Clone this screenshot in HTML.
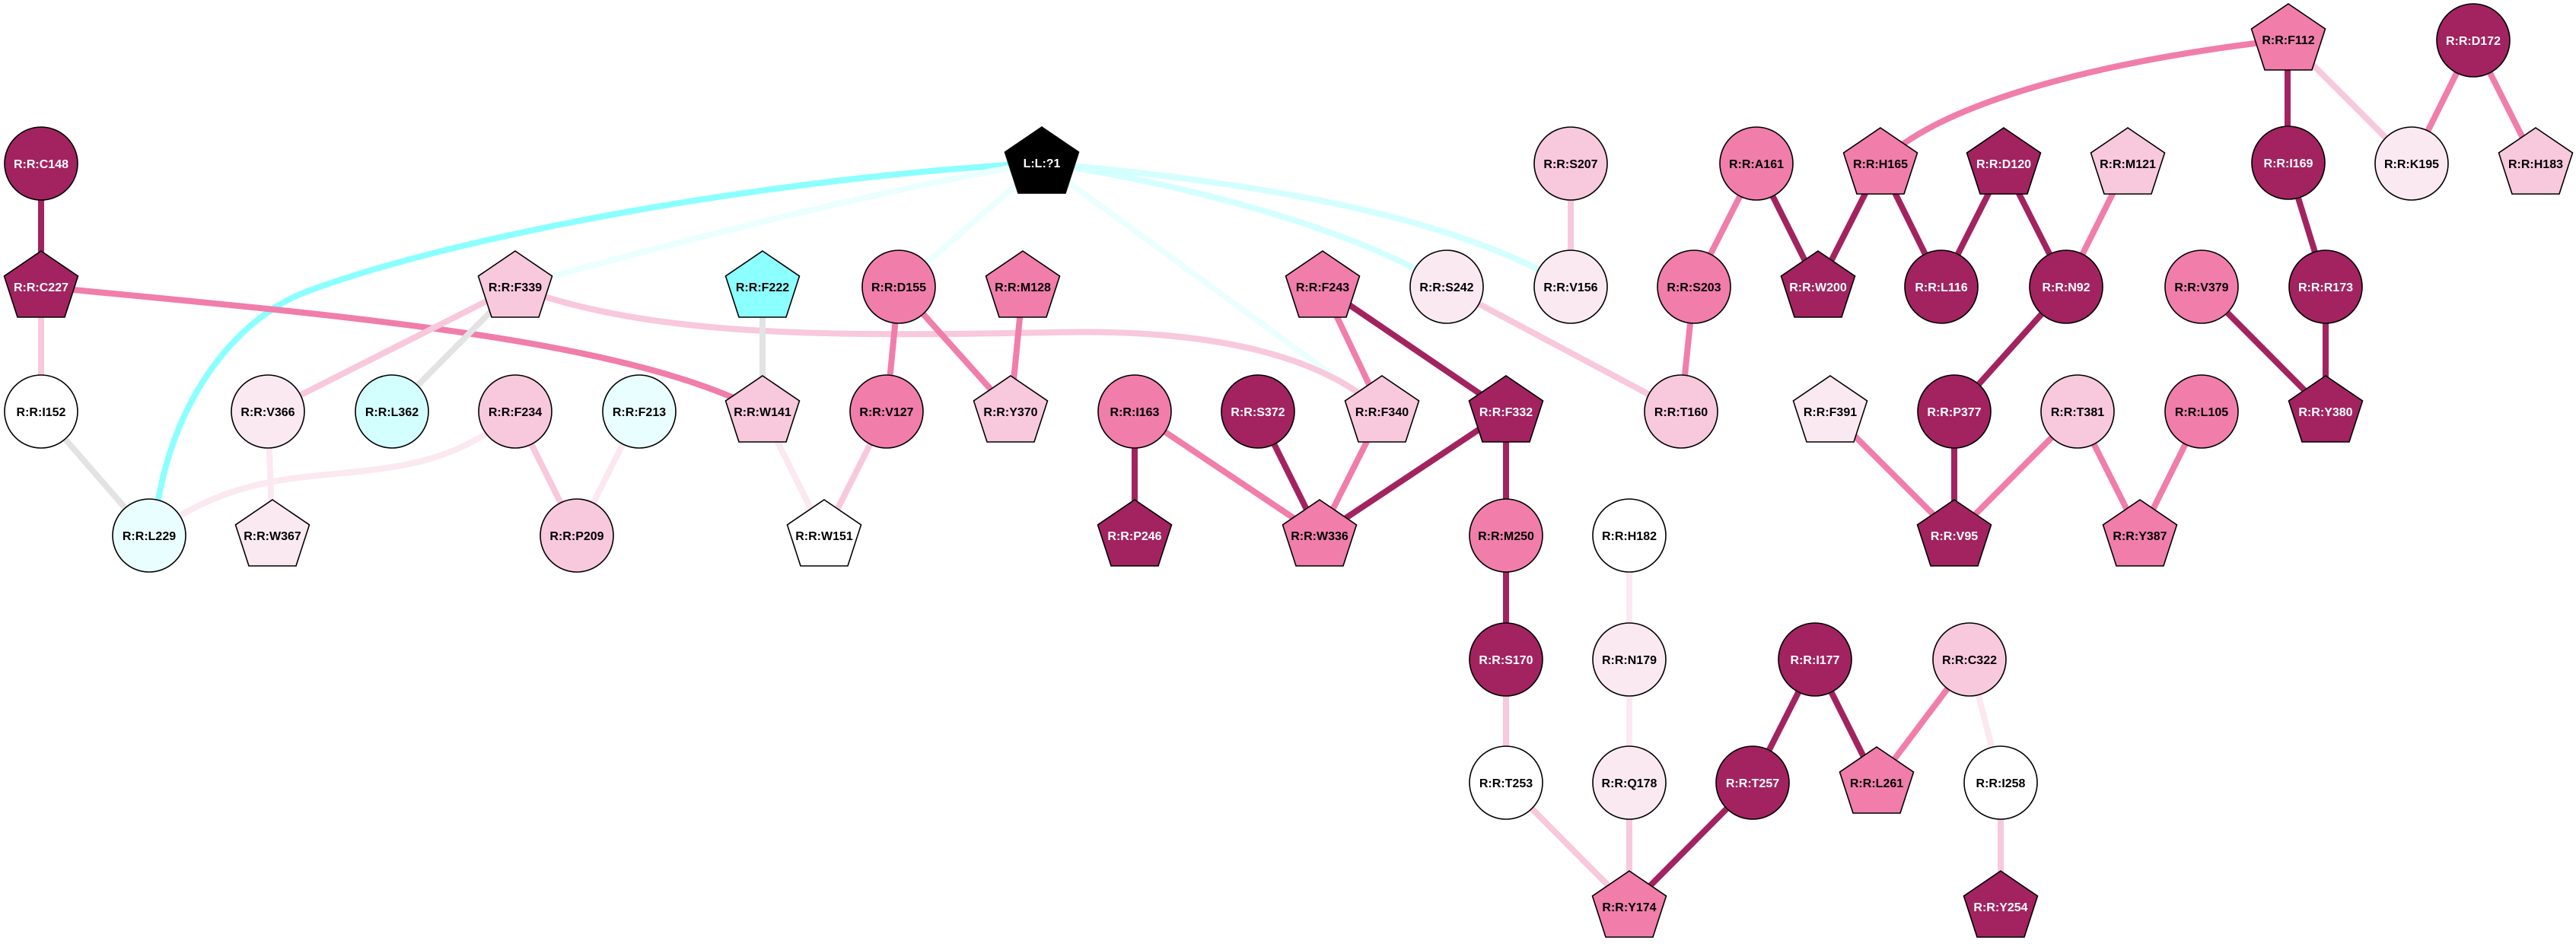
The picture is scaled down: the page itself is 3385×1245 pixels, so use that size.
<!DOCTYPE html>
<html><head><meta charset="utf-8">
<style>
html,body{margin:0;padding:0;background:#fff;}
svg{display:block;}
text{font-family:"Liberation Sans",Arial,sans-serif;font-weight:bold;font-size:16px;text-anchor:middle;}
</style></head>
<body>
<svg width="3385" height="1245" viewBox="0 0 3385 1245" xmlns="http://www.w3.org/2000/svg">
<defs>
<polygon id="pg" points="0,-47 48.5,-14 31,40 -31,40 -48.5,-14" stroke="#000" stroke-width="1.6"/>
</defs>
<g fill="none" stroke-width="8" stroke-linecap="butt">
<!-- cyan edges from ligand -->
<path d="M1369,214 C1000,235 600,310 404,383 C304,420 215,540 202,704" stroke="#8cffff"/>
<path d="M1369,214 C1230,235 950,300 677,377" stroke="#ebffff"/>
<path d="M1369,214 L1181,377" stroke="#ebffff"/>
<path d="M1369,214 L1816,541" stroke="#ebffff"/>
<path d="M1369,214 C1550,240 1780,300 1901,377" stroke="#d4ffff"/>
<path d="M1369,214 C1650,240 1900,280 2064,377" stroke="#d4ffff"/>
<!-- curves -->
<path d="M54,377 C450,415 820,445 1002,541" stroke="#f07daa"/>
<path d="M677,377 C860,445 1100,442 1388,437 C1600,432 1740,470 1816,541" stroke="#f8c8dc"/>
<path d="M677,541 C600,610 520,615 430,624 C340,632 280,645 196,704" stroke="#fbe8f0"/>
<path d="M3006,52 C2750,80 2540,140 2471,215" stroke="#f07daa"/>
<!-- dark edges -->
<g stroke="#a2235f">
<line x1="54" y1="215" x2="54" y2="377"/>
<line x1="1491" y1="541" x2="1491" y2="704"/>
<line x1="1653" y1="541" x2="1734" y2="704"/>
<line x1="1979" y1="541" x2="1734" y2="704"/>
<line x1="1738" y1="377" x2="1979" y2="541"/>
<line x1="1979" y1="541" x2="1979" y2="704"/>
<line x1="2308" y1="215" x2="2389" y2="377"/>
<line x1="2471" y1="215" x2="2389" y2="377"/>
<line x1="2471" y1="215" x2="2551" y2="377"/>
<line x1="2633" y1="215" x2="2551" y2="377"/>
<line x1="2633" y1="215" x2="2715" y2="377"/>
<line x1="3006" y1="52" x2="3006" y2="215"/>
<line x1="3006" y1="215" x2="3056" y2="377"/>
<line x1="3056" y1="377" x2="3056" y2="541"/>
<line x1="2893" y1="377" x2="3056" y2="541"/>
<line x1="2715" y1="377" x2="2568" y2="541"/>
<line x1="2568" y1="541" x2="2568" y2="704"/>
<line x1="1979" y1="704" x2="1979" y2="867"/>
<line x1="2303" y1="1029" x2="2141" y2="1192"/>
<line x1="2385" y1="867" x2="2303" y2="1029"/>
<line x1="2385" y1="867" x2="2466" y2="1029"/>
</g>
<!-- medium pink edges -->
<g stroke="#f07daa">
<line x1="1181" y1="377" x2="1165" y2="541"/>
<line x1="1181" y1="377" x2="1328" y2="541"/>
<line x1="1344" y1="377" x2="1328" y2="541"/>
<line x1="1491" y1="541" x2="1734" y2="704"/>
<line x1="1816" y1="541" x2="1734" y2="704"/>
<line x1="1738" y1="377" x2="1816" y2="541"/>
<line x1="2308" y1="215" x2="2226" y2="377"/>
<line x1="2226" y1="377" x2="2209" y2="541"/>
<line x1="2796" y1="215" x2="2715" y2="377"/>
<line x1="3250" y1="52" x2="3169" y2="215"/>
<line x1="3250" y1="52" x2="3332" y2="215"/>
<line x1="2405" y1="541" x2="2568" y2="704"/>
<line x1="2730" y1="541" x2="2568" y2="704"/>
<line x1="2730" y1="541" x2="2812" y2="704"/>
<line x1="2893" y1="541" x2="2812" y2="704"/>
<line x1="2588" y1="867" x2="2466" y2="1029"/>
</g>
<!-- light pink edges -->
<g stroke="#f8c8dc">
<line x1="54" y1="377" x2="54" y2="541"/>
<line x1="677" y1="377" x2="352" y2="541"/>
<line x1="677" y1="541" x2="758" y2="704"/>
<line x1="1165" y1="541" x2="1083" y2="704"/>
<line x1="1901" y1="377" x2="2209" y2="541"/>
<line x1="2064" y1="215" x2="2064" y2="377"/>
<line x1="3006" y1="52" x2="3169" y2="215"/>
<line x1="1979" y1="867" x2="1979" y2="1029"/>
<line x1="1979" y1="1029" x2="2141" y2="1192"/>
<line x1="2141" y1="1029" x2="2141" y2="1192"/>
<line x1="2629" y1="1029" x2="2629" y2="1192"/>
</g>
<!-- very light pink edges -->
<g stroke="#fbe8f0">
<line x1="352" y1="541" x2="358" y2="704"/>
<line x1="840" y1="541" x2="758" y2="704"/>
<line x1="1002" y1="541" x2="1083" y2="704"/>
<line x1="2141" y1="704" x2="2141" y2="867"/>
<line x1="2141" y1="867" x2="2141" y2="1029"/>
<line x1="2588" y1="867" x2="2629" y2="1029"/>
</g>
<!-- gray edges -->
<g stroke="#e3e3e3">
<line x1="54" y1="541" x2="196" y2="704"/>
<line x1="677" y1="377" x2="515" y2="541"/>
<line x1="1002" y1="377" x2="1002" y2="541"/>
</g>
</g>

<!-- nodes -->
<g stroke="#000" stroke-width="1.6">
<!-- circles -->
<circle cx="3250" cy="53" r="48" fill="#a2235f"/>
<circle cx="54" cy="215" r="48" fill="#a2235f"/>
<circle cx="2064" cy="215" r="48" fill="#f8c8dc"/>
<circle cx="2308" cy="215" r="48" fill="#f07daa"/>
<circle cx="3007" cy="214" r="48" fill="#a2235f"/>
<circle cx="3169" cy="215" r="48" fill="#fbe9f1"/>
<circle cx="1181" cy="377" r="48" fill="#f07daa"/>
<circle cx="1901" cy="377" r="48" fill="#fbe9f1"/>
<circle cx="2064" cy="377" r="48" fill="#fbe9f1"/>
<circle cx="2226" cy="377" r="48" fill="#f07daa"/>
<circle cx="2551" cy="377" r="48" fill="#a2235f"/>
<circle cx="2715" cy="377" r="48" fill="#a2235f"/>
<circle cx="2893" cy="377" r="48" fill="#f07daa"/>
<circle cx="3056" cy="377" r="48" fill="#a2235f"/>
<circle cx="54" cy="541" r="48" fill="#ffffff"/>
<circle cx="352" cy="541" r="48" fill="#fbe9f1"/>
<circle cx="515" cy="541" r="48" fill="#d4ffff"/>
<circle cx="677" cy="541" r="48" fill="#f8c8dc"/>
<circle cx="840" cy="541" r="48" fill="#e9fefe"/>
<circle cx="1165" cy="541" r="48" fill="#f07daa"/>
<circle cx="1491" cy="541" r="48" fill="#f07daa"/>
<circle cx="1653" cy="541" r="48" fill="#a2235f"/>
<circle cx="2209" cy="541" r="48" fill="#f8c8dc"/>
<circle cx="2568" cy="541" r="48" fill="#a2235f"/>
<circle cx="2730" cy="541" r="48" fill="#f8c8dc"/>
<circle cx="2893" cy="541" r="48" fill="#f07daa"/>
<circle cx="196" cy="704" r="48" fill="#e9fefe"/>
<circle cx="758" cy="704" r="48" fill="#f8c8dc"/>
<circle cx="1979" cy="704" r="48" fill="#f07daa"/>
<circle cx="2141" cy="704" r="48" fill="#ffffff"/>
<circle cx="1979" cy="867" r="48" fill="#a2235f"/>
<circle cx="2141" cy="867" r="48" fill="#fbe9f1"/>
<circle cx="2385" cy="867" r="48" fill="#a2235f"/>
<circle cx="2588" cy="867" r="48" fill="#f8c8dc"/>
<circle cx="1979" cy="1029" r="48" fill="#ffffff"/>
<circle cx="2141" cy="1029" r="48" fill="#fbe9f1"/>
<circle cx="2303" cy="1029" r="48" fill="#a2235f"/>
<circle cx="2629" cy="1029" r="48" fill="#ffffff"/>
</g>
<!-- pentagons -->
<use href="#pg" x="3007" y="52" fill="#f07daa"/>
<use href="#pg" x="1369" y="214" fill="#000000"/>
<use href="#pg" x="2471" y="215" fill="#f07daa"/>
<use href="#pg" x="2633" y="215" fill="#a2235f"/>
<use href="#pg" x="2796" y="215" fill="#f8c8dc"/>
<use href="#pg" x="3332" y="215" fill="#f8c8dc"/>
<use href="#pg" x="54" y="377" fill="#a2235f"/>
<use href="#pg" x="677" y="377" fill="#f8c8dc"/>
<use href="#pg" x="1002" y="377" fill="#8cffff"/>
<use href="#pg" x="1344" y="377" fill="#f07daa"/>
<use href="#pg" x="1738" y="377" fill="#f07daa"/>
<use href="#pg" x="2389" y="377" fill="#a2235f"/>
<use href="#pg" x="1002" y="541" fill="#f8c8dc"/>
<use href="#pg" x="1328" y="541" fill="#f8c8dc"/>
<use href="#pg" x="1816" y="541" fill="#f8c8dc"/>
<use href="#pg" x="1979" y="541" fill="#a2235f"/>
<use href="#pg" x="2405" y="541" fill="#fbe9f1"/>
<use href="#pg" x="3056" y="541" fill="#a2235f"/>
<use href="#pg" x="358" y="704" fill="#fbe9f1"/>
<use href="#pg" x="1083" y="704" fill="#ffffff"/>
<use href="#pg" x="1491" y="704" fill="#a2235f"/>
<use href="#pg" x="1734" y="704" fill="#f07daa"/>
<use href="#pg" x="2568" y="704" fill="#a2235f"/>
<use href="#pg" x="2812" y="704" fill="#f07daa"/>
<use href="#pg" x="2466" y="1029" fill="#f07daa"/>
<use href="#pg" x="2141" y="1192" fill="#f07daa"/>
<use href="#pg" x="2629" y="1192" fill="#a2235f"/>

<!-- labels -->
<g fill="#ffffff">
<text x="3250" y="59">R:R:D172</text>
<text x="54" y="221">R:R:C148</text>
<text x="1369" y="220">L:L:?1</text>
<text x="2633" y="221">R:R:D120</text>
<text x="3007" y="220">R:R:I169</text>
<text x="54" y="383">R:R:C227</text>
<text x="2389" y="383">R:R:W200</text>
<text x="2551" y="383">R:R:L116</text>
<text x="2715" y="383">R:R:N92</text>
<text x="3056" y="383">R:R:R173</text>
<text x="1653" y="547">R:R:S372</text>
<text x="1979" y="547">R:R:F332</text>
<text x="2568" y="547">R:R:P377</text>
<text x="3056" y="547">R:R:Y380</text>
<text x="1491" y="710">R:R:P246</text>
<text x="2568" y="710">R:R:V95</text>
<text x="1979" y="873">R:R:S170</text>
<text x="2385" y="873">R:R:I177</text>
<text x="2303" y="1035">R:R:T257</text>
<text x="2629" y="1198">R:R:Y254</text>
</g>
<g fill="#000000">
<text x="3007" y="58">R:R:F112</text>
<text x="2064" y="221">R:R:S207</text>
<text x="2308" y="221">R:R:A161</text>
<text x="2471" y="221">R:R:H165</text>
<text x="2796" y="221">R:R:M121</text>
<text x="3169" y="221">R:R:K195</text>
<text x="3332" y="221">R:R:H183</text>
<text x="677" y="383">R:R:F339</text>
<text x="1002" y="383">R:R:F222</text>
<text x="1181" y="383">R:R:D155</text>
<text x="1344" y="383">R:R:M128</text>
<text x="1738" y="383">R:R:F243</text>
<text x="1901" y="383">R:R:S242</text>
<text x="2064" y="383">R:R:V156</text>
<text x="2226" y="383">R:R:S203</text>
<text x="2893" y="383">R:R:V379</text>
<text x="54" y="547">R:R:I152</text>
<text x="352" y="547">R:R:V366</text>
<text x="515" y="547">R:R:L362</text>
<text x="677" y="547">R:R:F234</text>
<text x="840" y="547">R:R:F213</text>
<text x="1002" y="547">R:R:W141</text>
<text x="1165" y="547">R:R:V127</text>
<text x="1328" y="547">R:R:Y370</text>
<text x="1491" y="547">R:R:I163</text>
<text x="1816" y="547">R:R:F340</text>
<text x="2209" y="547">R:R:T160</text>
<text x="2405" y="547">R:R:F391</text>
<text x="2730" y="547">R:R:T381</text>
<text x="2893" y="547">R:R:L105</text>
<text x="196" y="710">R:R:L229</text>
<text x="358" y="710">R:R:W367</text>
<text x="758" y="710">R:R:P209</text>
<text x="1083" y="710">R:R:W151</text>
<text x="1734" y="710">R:R:W336</text>
<text x="1979" y="710">R:R:M250</text>
<text x="2141" y="710">R:R:H182</text>
<text x="2812" y="710">R:R:Y387</text>
<text x="2141" y="873">R:R:N179</text>
<text x="2588" y="873">R:R:C322</text>
<text x="1979" y="1035">R:R:T253</text>
<text x="2141" y="1035">R:R:Q178</text>
<text x="2466" y="1035">R:R:L261</text>
<text x="2629" y="1035">R:R:I258</text>
<text x="2141" y="1198">R:R:Y174</text>
</g>
</svg>
</body></html>
